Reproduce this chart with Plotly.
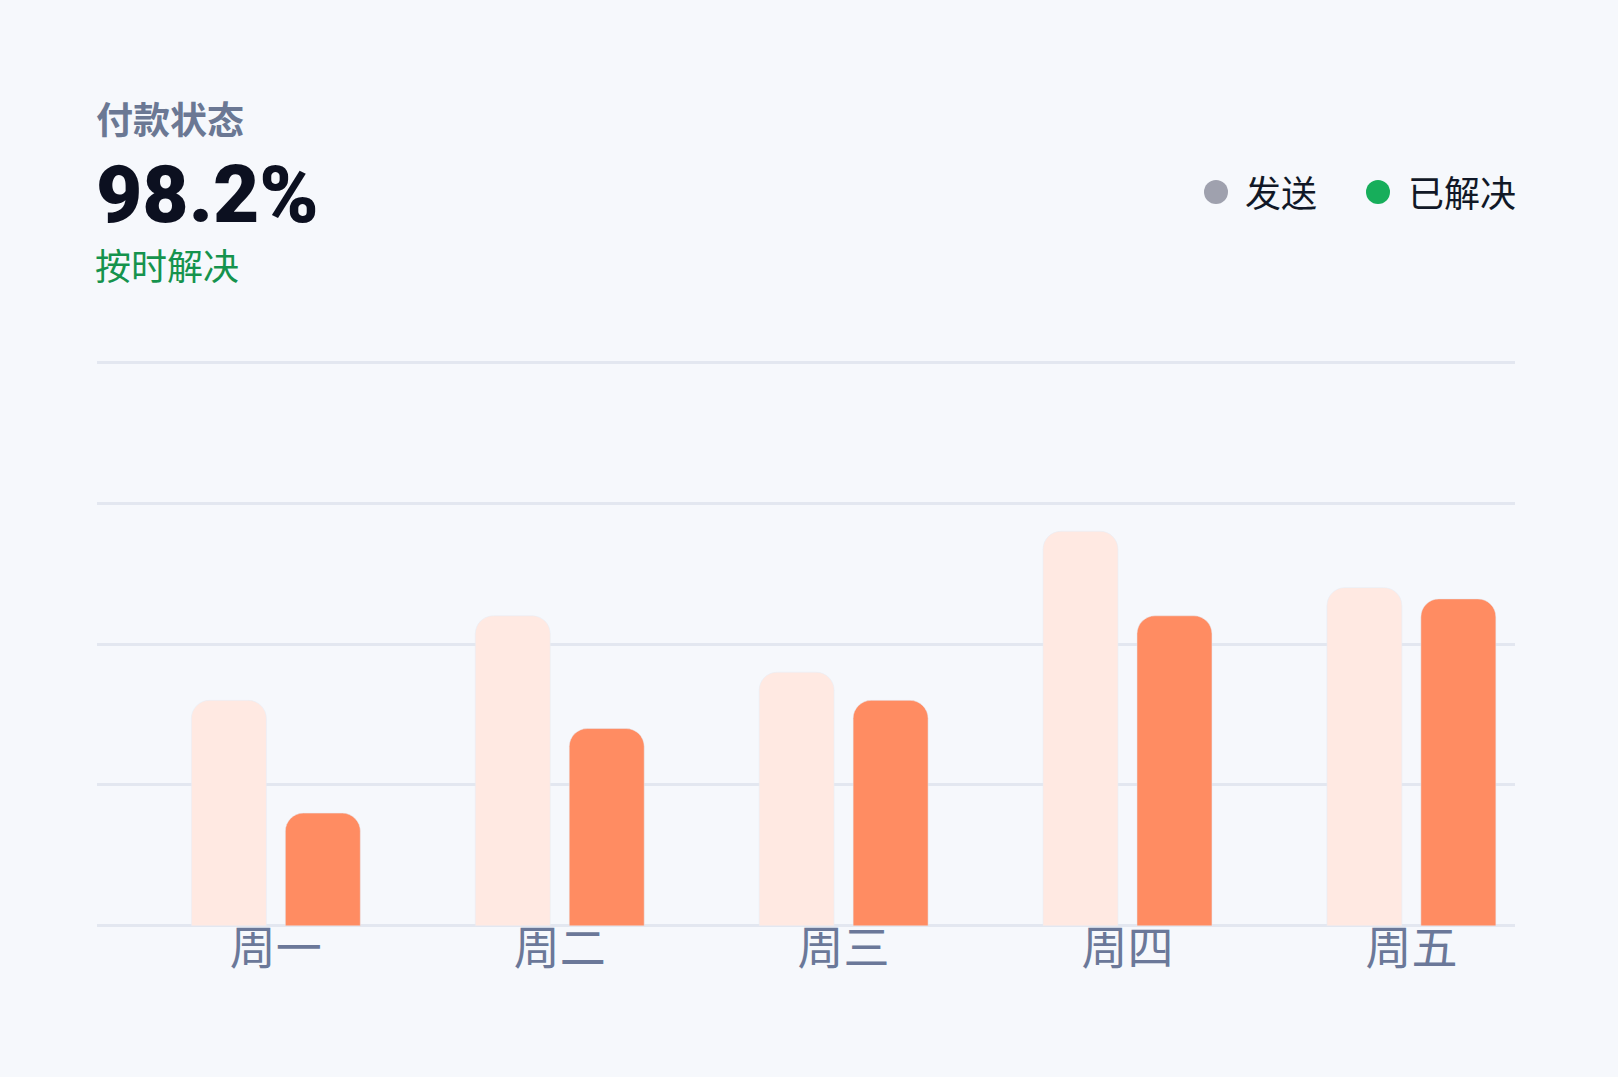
import plotly.graph_objects as go

# data
days = ["周一", "周二", "周三", "周四", "周五"]
sent = [80, 110, 90, 140, 120]
resolved = [40, 70, 80, 110, 116]
y_ticks = [0, 50, 100, 150, 200]

legend_names = ["发送", "已解决"]
legend_colors = ["#9fa1ae", "#17ae5b"]

W, H = 1618, 1077
L, R, T, B = 97, 103, 361, 150
plot_w = W - L - R
plot_h = H - T - B
BG = "#f6f8fc"


def px_x(p):
    return (p - L) / plot_w


def px_y(p):
    return (H - B - p) / plot_h


fig = go.Figure()
fig.add_trace(go.Bar(x=days, y=sent, name="发送", marker=dict(color="#ffe9e2", cornerradius=18),
                     showlegend=False, hoverinfo="skip"))
fig.add_trace(go.Bar(x=days, y=resolved, name="已解决", marker=dict(color="#ff8c62", cornerradius=18),
                     showlegend=False, hoverinfo="skip"))

# header texts
fig.add_annotation(text="<b>付款状态</b>", x=-0.002, y=px_y(118), xref="paper", yref="paper",
                   xanchor="left", yanchor="middle", showarrow=False,
                   font=dict(family="Noto Sans CJK SC", size=37, color="#6b7894"))
fig.add_annotation(text="98.2%", x=-0.002, y=px_y(195), xref="paper", yref="paper",
                   xanchor="left", yanchor="middle", showarrow=False,
                   font=dict(family="Roboto", size=80, color="#0c1020", weight=900))
fig.add_annotation(text="按时解决", x=-0.003, y=px_y(264), xref="paper", yref="paper",
                   xanchor="left", yanchor="middle", showarrow=False,
                   font=dict(family="Noto Sans CJK SC", size=36, color="#15934d"))

# custom legend
for name, color, cx, tx in zip(legend_names, legend_colors, [1216, 1378], [1243, 1406]):
    fig.add_shape(type="circle", xref="paper", yref="paper", xsizemode="pixel", ysizemode="pixel",
                  xanchor=px_x(cx), yanchor=px_y(192), x0=-12, x1=12, y0=-12, y1=12,
                  fillcolor=color, line_width=0)
    fig.add_annotation(text=name, x=px_x(tx), y=px_y(191), xref="paper", yref="paper",
                       xanchor="left", yanchor="middle", showarrow=False,
                       font=dict(family="Noto Sans CJK SC", size=36, color="#111827"))

fig.update_layout(
    width=W, height=H,
    margin=dict(l=L, r=R, t=T, b=B),
    paper_bgcolor=BG, plot_bgcolor=BG,
    barmode="group", bargap=0.338, bargroupgap=0.202,
    showlegend=False,
    font=dict(family="Noto Sans CJK SC"),
)
fig.update_xaxes(range=[-0.63, 4.365], showgrid=False, zeroline=False, showline=False,
                 ticks="", tickfont=dict(size=46, color="#6b7899"), ticklabelstandoff=-10,
                 fixedrange=True)
fig.update_yaxes(range=[-0.4, 200.4], tickvals=y_ticks, showticklabels=False, showgrid=True,
                 gridcolor="#e3e7f0", gridwidth=3, zeroline=False, showline=False, fixedrange=True,
                 layer="below traces")

fig.write_html(
    "out.html",
    config={"displayModeBar": False},
    post_script=f"document.body.style.margin='0';document.body.style.background='{BG}';",
)
